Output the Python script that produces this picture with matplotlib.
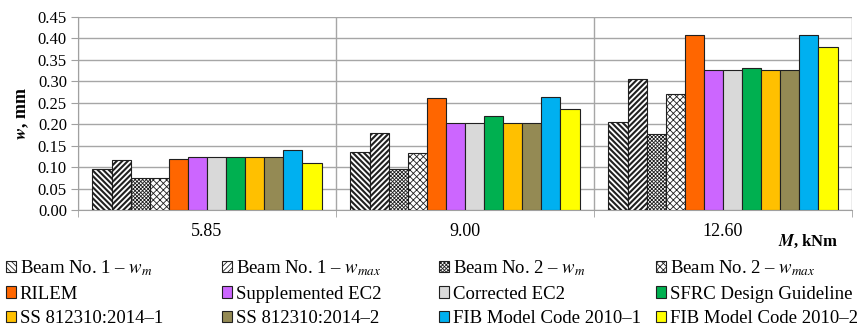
import numpy as np
import matplotlib
matplotlib.use("Agg")
import matplotlib.pyplot as plt
from matplotlib.patches import Patch

plt.rcParams['font.family'] = ['Liberation Serif', 'DejaVu Serif']
plt.rcParams['mathtext.fontset'] = 'stix'

# Bending moments (categories) and crack widths w, mm
moments = ['5.85', '9.00', '12.60']
beam1_wm = [0.095, 0.136, 0.206]
beam1_wmax = [0.117, 0.179, 0.306]
beam2_wm = [0.075, 0.096, 0.177]
beam2_wmax = [0.075, 0.132, 0.270]
rilem = [0.118, 0.262, 0.409]
supp_ec2 = [0.123, 0.203, 0.327]
corr_ec2 = [0.123, 0.203, 0.327]
sfrc_guide = [0.123, 0.220, 0.330]
ss_1 = [0.123, 0.203, 0.327]
ss_2 = [0.123, 0.203, 0.327]
fib_1 = [0.139, 0.263, 0.409]
fib_2 = [0.110, 0.236, 0.380]

series = [
    (r'Beam No. 1 – $w_m$', beam1_wm, 'white', '\\' * 6, 1.5),
    (r'Beam No. 1 – $w_{max}$', beam1_wmax, 'white', '/' * 6, 1.5),
    (r'Beam No. 2 – $w_m$', beam2_wm, 'white', 'x' * 9, 0.6),
    (r'Beam No. 2 – $w_{max}$', beam2_wmax, 'white', 'x' * 5, 0.6),
    ('RILEM', rilem, '#ff6600', None, None),
    ('Supplemented EC2', supp_ec2, '#cc66ff', None, None),
    ('Corrected EC2', corr_ec2, '#d9d9d9', None, None),
    ('SFRC Design Guideline', sfrc_guide, '#00b050', None, None),
    ('SS 812310:2014–1', ss_1, '#ffc000', None, None),
    ('SS 812310:2014–2', ss_2, '#948a54', None, None),
    ('FIB Model Code 2010–1', fib_1, '#00b0f0', None, None),
    ('FIB Model Code 2010–2', fib_2, '#ffff00', None, None),
]

W, H = 862, 330
fig = plt.figure(figsize=(W / 100, H / 100), dpi=100)
ax = fig.add_axes([78 / W, 1 - 210 / H, 774 / W, 193 / H])

x = np.arange(len(moments))
n = len(series)
w = 0.074
handles = []
for i, (label, vals, color, hatch, hlw) in enumerate(series):
    pos = x + (i - (n - 1) / 2) * w
    if hatch:
        plt.rcParams['hatch.linewidth'] = hlw
    bars = ax.bar(pos, vals, w, color=color, edgecolor='#202020',
                  linewidth=0.8, hatch=hatch, zorder=3)
    for b in bars:
        if hatch and hasattr(b, 'set_hatch_linewidth'):
            b.set_hatch_linewidth(hlw)
    h = Patch(facecolor=color, edgecolor='#202020', linewidth=0.8,
              hatch=hatch, label=label)
    if hatch and hasattr(h, 'set_hatch_linewidth'):
        h.set_hatch_linewidth(hlw)
    handles.append(h)

ax.set_xlim(-0.5, 2.5)
ax.set_ylim(0, 0.45)
yt = np.arange(0, 0.451, 0.05)
ax.set_yticks(yt)
ax.set_yticklabels([f'{v:.2f}' for v in yt])
ax.set_xticks(x)
ax.set_xticklabels(moments)
ax.set_xticks([-0.5, 0.5, 1.5, 2.5], minor=True)
ax.tick_params(axis='x', which='major', length=0, pad=9, labelsize=13)
ax.tick_params(axis='x', which='minor', length=5, color='#a0a0a0')
ax.tick_params(axis='y', length=5, color='#a0a0a0', labelsize=12, pad=3)
ax.grid(axis='y', color='#a6a6a6', linewidth=1.0, zorder=0)
ax.grid(axis='x', which='minor', color='#a6a6a6', linewidth=1.0, zorder=0)
for s in ['top', 'right']:
    ax.spines[s].set_visible(False)
for s in ['left', 'bottom']:
    ax.spines[s].set_color('#a0a0a0')

ax.set_ylabel(r'$\mathbfit{w}$, mm', fontsize=13, fontweight='bold', labelpad=5)
fig.text(778 / W, 1 - 241 / H, r'$\mathbfit{M}$, kNm', fontsize=12,
         fontweight='bold', ha='left', va='center')

# legend: four fixed-width columns, three rows each
col_x = [6, 222, 439, 656]
for c in range(4):
    hs = [handles[c + 4 * r] for r in range(3)]
    fig.legend(hs, [h.get_label() for h in hs], loc='upper left',
               bbox_to_anchor=(col_x[c] / W, 1 - 258 / H), borderaxespad=0,
               borderpad=0, frameon=False, fontsize=13.5, handlelength=0.55,
               handleheight=0.55, handletextpad=0.18, labelspacing=0.42)

fig.savefig('out.png', dpi=100)
